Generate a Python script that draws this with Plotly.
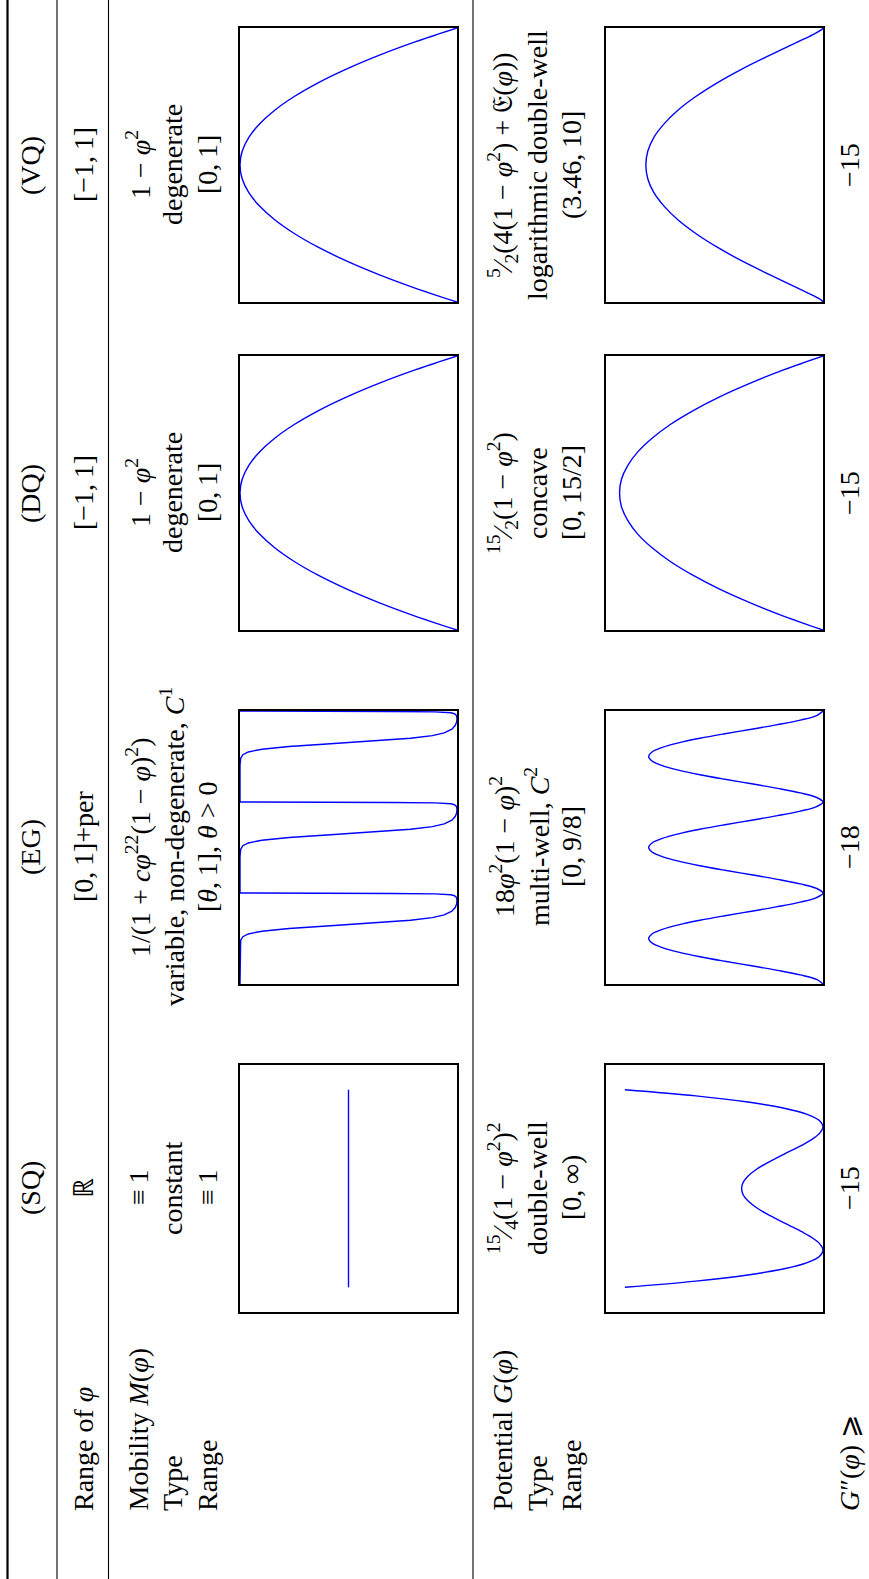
import plotly.graph_objects as go

W, H = 869, 1579

# ---------------- table content ----------------
models = ["SQ", "EG", "DQ", "VQ"]
header = ["(SQ)", "(EG)", "(DQ)", "(VQ)"]
phi_range = ["ℝ", "[0,\u20091]+per", "[−1,\u20091]", "[−1,\u20091]"]
mob_formula = ["≡\u20091",
               "1/(1 + <i>cφ</i><sup>22</sup>(1 − <i>φ</i>)<sup>2</sup>)",
               "1 − <i>φ</i><sup>2</sup>",
               "1 − <i>φ</i><sup>2</sup>"]
mob_type = ["constant", "variable, non-degenerate, <i>C</i><sup>1</sup>",
            "degenerate", "degenerate"]
mob_range = ["≡\u20091", "[<i>θ</i>,\u20091], <i>θ</i> > 0", "[0,\u20091]", "[0,\u20091]"]
pot_formula = ["<sup>15</sup>⁄<sub>4</sub>(1 − <i>φ</i><sup>2</sup>)<sup>2</sup>",
               "18<i>φ</i><sup>2</sup>(1 − <i>φ</i>)<sup>2</sup>",
               "<sup>15</sup>⁄<sub>2</sub>(1 − <i>φ</i><sup>2</sup>)",
               "<sup>5</sup>⁄<sub>2</sub>(4(1 − <i>φ</i><sup>2</sup>) + 𝔈(<i>φ</i>))"]
pot_type = ["double-well", "multi-well, <i>C</i><sup>2</sup>", "concave",
            "logarithmic double-well"]
pot_range = ["[0,\u2009∞)", "[0,\u20099/8]", "[0,\u200915/2]", "(3.46,\u200910]"]
g2_bound = ["−15", "−18", "−15", "−15"]

row_labels = ["Range of <i>φ</i>", "Mobility <i>M</i>(<i>φ</i>)", "Type", "Range",
              "Potential <i>G</i>(<i>φ</i>)", "Type", "Range",
              "<i>G</i>″(<i>φ</i>) ⩾"]

# ---------------- curve data ----------------
# SQ
phi_sq = [-1.6, -1.5, -1.4, -1.3, -1.2, -1.1, -1.0, -0.9, -0.8, -0.7, -0.6, -0.5,
          -0.4, -0.3, -0.2, -0.1, 0.0, 0.1, 0.2, 0.3, 0.4, 0.5, 0.6, 0.7, 0.8,
          0.9, 1.0, 1.1, 1.2, 1.3, 1.4, 1.5, 1.6]
g_sq = [9.13, 5.86, 3.46, 1.79, 0.73, 0.17, 0.0, 0.14, 0.49, 0.98, 1.54, 2.11,
        2.65, 3.11, 3.46, 3.68, 3.75, 3.68, 3.46, 3.11, 2.65, 2.11, 1.54, 0.98,
        0.49, 0.14, 0.0, 0.17, 0.73, 1.79, 3.46, 5.86, 9.13]
phi_sq_m = [-1.6, 1.6]
m_sq = [1.0, 1.0]

# EG (one period, repeated three times)
phi_eg_m_period = [0.0, 0.40, 0.48, 0.52, 0.55, 0.58, 0.61, 0.64, 0.67, 0.70, 0.73,
                   0.76, 0.80, 0.84, 0.88, 0.92, 0.95, 0.97, 0.98, 0.99, 0.995,
                   0.998, 1.0]
m_eg_period = [1.0, 1.0, 0.997, 0.987, 0.962, 0.90, 0.776, 0.587, 0.382, 0.222,
               0.122, 0.068, 0.033, 0.018, 0.0114, 0.0097, 0.0122, 0.021, 0.0375,
               0.111, 0.309, 0.723, 1.0]
phi_eg_g_period = [0.0, 0.05, 0.1, 0.15, 0.2, 0.25, 0.3, 0.35, 0.4, 0.45, 0.5,
                   0.55, 0.6, 0.65, 0.7, 0.75, 0.8, 0.85, 0.9, 0.95, 1.0]
g_eg_period = [0.0, 0.041, 0.146, 0.293, 0.461, 0.633, 0.794, 0.932, 1.037, 1.103,
               1.125, 1.103, 1.037, 0.932, 0.794, 0.633, 0.461, 0.293, 0.146,
               0.041, 0.0]
eg_periods = [0, 1, 2]

# DQ / VQ
phi_q = [-1.0, -0.9, -0.8, -0.7, -0.6, -0.5, -0.4, -0.3, -0.2, -0.1, 0.0,
         0.1, 0.2, 0.3, 0.4, 0.5, 0.6, 0.7, 0.8, 0.9, 1.0]
m_q = [0.0, 0.19, 0.36, 0.51, 0.64, 0.75, 0.84, 0.91, 0.96, 0.99, 1.0,
       0.99, 0.96, 0.91, 0.84, 0.75, 0.64, 0.51, 0.36, 0.19, 0.0]
g_dq = [0.0, 1.43, 2.70, 3.83, 4.80, 5.63, 6.30, 6.83, 7.20, 7.43, 7.50,
        7.43, 7.20, 6.83, 6.30, 5.63, 4.80, 3.83, 2.70, 1.43, 0.0]
phi_vq_g = [-1.0, -0.99, -0.95, -0.9, -0.8, -0.7, -0.6, -0.5, -0.4, -0.3, -0.2,
            -0.1, 0.0, 0.1, 0.2, 0.3, 0.4, 0.5, 0.6, 0.7, 0.8, 0.9, 0.95, 0.99, 1.0]
g_vq = [0.0, 0.04, 0.39, 0.91, 1.97, 2.99, 3.90, 4.69, 5.35, 5.86, 6.24, 6.46,
        6.53, 6.46, 6.24, 5.86, 5.35, 4.69, 3.90, 2.99, 1.97, 0.91, 0.39, 0.04, 0.0]


def tile(phis, vals, periods):
    xs, ys = [], []
    for k in periods:
        for i, (p, v) in enumerate(zip(phis, vals)):
            if k > 0 and i == 0:
                continue
            xs.append(v)
            ys.append(p + k)
    return xs, ys


m_eg, phi_eg_m = tile(phi_eg_m_period, m_eg_period, eg_periods)
g_eg, phi_eg_g = tile(phi_eg_g_period, g_eg_period, eg_periods)

curves_m = [(m_sq, phi_sq_m), (m_eg, phi_eg_m), (m_q, phi_q), (m_q, phi_q)]
curves_g = [(g_sq, phi_sq), (g_eg, phi_eg_g), (g_dq, phi_q), (g_vq, phi_vq_g)]

# axis ranges: (value range reversed, phi range)
m_xrange = [[2, 0], [1.0, 0.0097], [1, 0], [1, 0]]
g_xrange = [[10, 0], [1.4, 0], [8, 0], [8, 0]]
phi_yrange = [[-2, 2], [0, 3], [-1, 1], [-1, 1]]

# ---------------- geometry (pixels) ----------------
col_center = [1188, 847, 493, 165]
box_y = [(1065, 1312), (711, 984), (356, 630), (28, 302)]
m_box_x = (240, 457)
g_box_x = (606, 823)
x_header, x_range = 30, 83
x_mob = [138, 172, 207]
x_pot = [502, 537, 571]
x_g2 = 849
label_x = [x_range] + x_mob + x_pot + [x_g2]
label_bottom = 1512
rules = [(7.5, 2.2), (57, 1.1), (108.5, 1.1), (473, 1.1)]

FONT = dict(family="Liberation Serif, Times New Roman, serif", size=28, color="black")


def px(x):
    return x / W


def py(y):
    return 1 - y / H


fig = go.Figure()
annotations = []


def add_text(text, x, y, yanchor="middle"):
    annotations.append(dict(text=text, x=px(x), y=py(y), xref="paper", yref="paper",
                            textangle=-90, showarrow=False, xanchor="center",
                            yanchor=yanchor, font=FONT, borderpad=0))


for i in range(4):
    yc = col_center[i]
    add_text(header[i], x_header, yc)
    add_text(phi_range[i], x_range, yc)
    for x, t in zip(x_mob, [mob_formula[i], mob_type[i], mob_range[i]]):
        add_text(t, x, yc)
    for x, t in zip(x_pot, [pot_formula[i], pot_type[i], pot_range[i]]):
        add_text(t, x, yc)
    add_text(g2_bound[i], x_g2, yc)

for t, x in zip(row_labels, label_x):
    add_text(t, x, label_bottom, yanchor="bottom")

axis_style = dict(showline=True, mirror=True, linecolor="black", linewidth=1.6,
                  showticklabels=False, ticks="", showgrid=False, zeroline=False,
                  layer="below traces", fixedrange=True)

layout_axes = {}
n = 0
for i in range(4):
    y0, y1 = box_y[i]
    for (bx0, bx1), (xs, ys), xr in [(m_box_x, curves_m[i], m_xrange[i]),
                                     (g_box_x, curves_g[i], g_xrange[i])]:
        n += 1
        sfx = "" if n == 1 else str(n)
        fig.add_trace(go.Scatter(x=xs, y=ys, mode="lines",
                                 line=dict(color="#0000ff", width=1.4,
                                           shape="linear" if i == 1 and xr[1] > 0 else "spline"),
                                 xaxis="x" + sfx, yaxis="y" + sfx, showlegend=False,
                                 hoverinfo="skip"))
        layout_axes["xaxis" + sfx] = dict(domain=[px(bx0), px(bx1)], range=xr,
                                          anchor="y" + sfx, **axis_style)
        layout_axes["yaxis" + sfx] = dict(domain=[py(y1), py(y0)], range=phi_yrange[i],
                                          anchor="x" + sfx, **axis_style)

shapes = [dict(type="line", xref="paper", yref="paper", x0=px(x), x1=px(x), y0=0, y1=1,
               line=dict(color="black", width=w)) for x, w in rules]

fig.update_layout(width=W, height=H, margin=dict(l=0, r=0, t=0, b=0),
                  paper_bgcolor="white", plot_bgcolor="white",
                  annotations=annotations, shapes=shapes, showlegend=False,
                  **layout_axes)

fig.write_html("out.html", config={"displayModeBar": False})
